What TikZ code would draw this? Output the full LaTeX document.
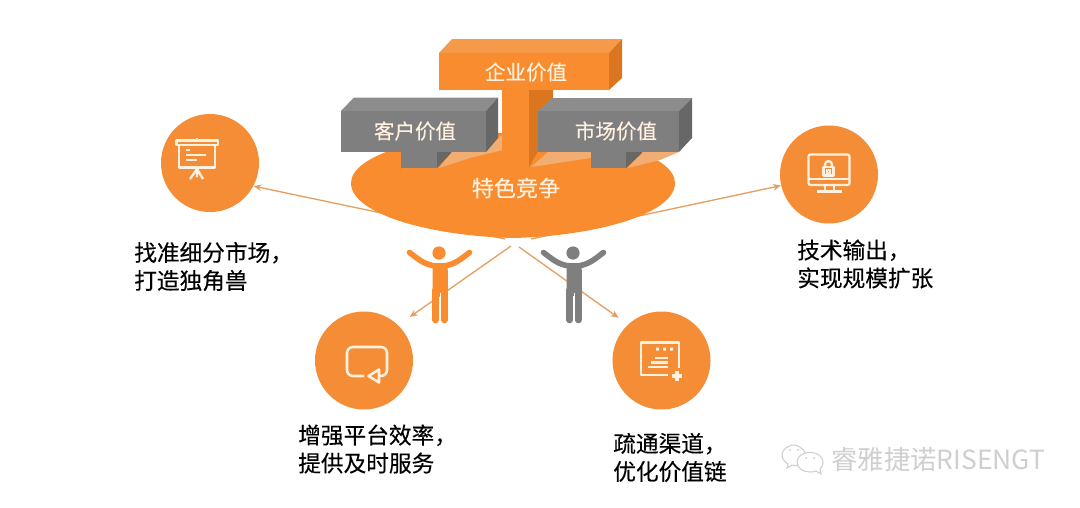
\documentclass[tikz,border=0pt]{standalone}
\usepackage{fontspec}
\setmainfont{Noto Sans CJK SC}
\usetikzlibrary{arrows.meta}
\definecolor{om}{HTML}{F98C2F}
\definecolor{omtop}{HTML}{F59A48}
\definecolor{omdark}{HTML}{D9761F}
\definecolor{omlight}{HTML}{F2AE72}
\definecolor{circ}{HTML}{F48D36}
\definecolor{gm}{HTML}{7F7F7F}
\definecolor{gtop}{HTML}{8C8C8C}
\definecolor{gdark}{HTML}{676767}
\definecolor{arr}{HTML}{E3A063}
\definecolor{cream}{HTML}{FFF1DF}
\definecolor{wm}{HTML}{CFCFCF}
\tikzset{
  x=0.75pt,y=-0.75pt,
  disc/.style={circle,fill=circ,minimum size=73.5pt,inner sep=0pt,draw=none},
  ray/.style={draw=arr,line width=1pt,-{Stealth[length=6pt,width=5pt]}},
  lbl/.style={anchor=west,align=left,inner sep=0pt,text=black,font=\fontsize{17}{21}\selectfont\addfontfeature{FakeBold=0.25}},
  blocktext/.style={text=cream,inner sep=0pt,font=\fontsize{15.4}{18}\selectfont\addfontfeature{FakeBold=0.25}},
  icon/.style={draw=cream,line width=1.7pt,fill=none,line join=round},
  iconthin/.style={draw=cream,line width=1.3pt,fill=none},
  limb/.style={line width=4.2pt,line cap=round,line join=round},
  wmline/.style={draw=wm,line width=0.8pt,fill=white}
}
\begin{document}
\begin{tikzpicture}
\useasboundingbox[fill=white] (0,0) rectangle (1080,507);

% circles
\node[disc] (c1) at (210,163) {};
\node[disc] (c2) at (829,174.5) {};
\node[disc] (c3) at (364,360.5) {};
\node[disc] (c4) at (661.5,360.5) {};

% arrows
\coordinate (h1) at (505,239);
\coordinate (h2) at (531,239);
\coordinate (h3) at (511,246);
\coordinate (h4) at (519,247);
\draw[ray] (h1) -- (c1.-28);
\draw[ray] (h2) -- (c2.193);

% bowl
\fill[om] (351,183) .. controls (351,214) and (430,236) .. (513,238)
          .. controls (596,236) and (675,214) .. (675,183)
          arc[start angle=0,end angle=180,x radius=162,y radius=-50] -- cycle;
% shadows on bowl
\fill[omlight] (439,168) -- (452,152) -- (486,152) -- (500,136) -- (505,134) -- (503,150) -- (470,158) -- cycle;
\fill[omlight] (531,167) -- (548,152) -- (591,152) -- (591,158) -- cycle;
\fill[omlight] (628,168) -- (642,152) -- (679,152) -- (660,160) -- cycle;

% central stem
\fill[om] (502,88) rectangle (529,168);
\fill[omdark] (529,88) -- (553,88) -- (553,125) -- (529,167) -- cycle;

% left grey block
\fill[gdark] (437,150) -- (451,150) -- (451,153) -- (437,168) -- cycle;
\fill[gm] (401,150) rectangle (437,168);
\fill[gtop] (341,111) -- (354,97.5) -- (498,97.5) -- (486,111) -- cycle;
\fill[gdark] (486,111) -- (498,97.5) -- (498,138) -- (486,152) -- cycle;
\fill[gm] (341,111) rectangle (486,152);
\node[blocktext] (kh) at (415,131) {客户价值};

% right grey block
\fill[gdark] (626,150) -- (642,150) -- (642,153) -- (626,168) -- cycle;
\fill[gm] (591,150) rectangle (626,168);
\fill[gtop] (538,111) -- (552,98) -- (692,98) -- (679,111) -- cycle;
\fill[gdark] (679,111) -- (692,98) -- (692,138) -- (679,152) -- cycle;
\fill[gm] (538,111) rectangle (679,152);
\node[blocktext] (sc) at (616,131) {市场价值};

% top block
\fill[omtop] (439,53) -- (452,39) -- (622,39) -- (609,53) -- cycle;
\fill[omdark] (609,53) -- (622,39) -- (622,78) -- (609,90) -- cycle;
\fill[om] (439,53) rectangle (609,90);
\node[blocktext] (qy) at (526,72) {企业价值};
\node[blocktext,font=\fontsize{16.6}{20}\selectfont\addfontfeature{FakeBold=0.25}] (ts) at (516,188) {特色竞争};

% people
\foreach \dx/\col in {0/om,134/gm}{
  \begin{scope}[shift={(\dx,0)}]
    \fill[\col] (439,253) circle[radius=6.6];
    \draw[\col,limb] (409.5,252.5) .. controls (417,258) and (424,265) .. (436,266);
    \draw[\col,limb] (469.5,252.5) .. controls (462,258) and (455,265) .. (443,266);
    \fill[\col,rounded corners=1.5] (432.5,263) rectangle (447.5,296);
  \end{scope}
}
% lower arrows run across the figures
\draw[ray,shorten >=10.5pt] (h3) -- (c3.46);
\draw[ray,shorten >=8.5pt] (h4) -- (c4.133);
\foreach \dx/\col in {0/om,134/gm}{
  \begin{scope}[shift={(\dx,0)}]
    \fill[\col] (432.5,270) rectangle (447.5,296);
    \draw[\col,line width=5pt,line cap=round] (435.6,290) -- (435.6,320);
    \draw[\col,line width=5pt,line cap=round] (444.2,290) -- (444.2,320);
    \draw[white,line width=0.6pt] (439.9,293) -- (439.9,323);
  \end{scope}
}

% icon 1: presentation board
\draw[icon] (176.5,140.5) rectangle (218,145);
\draw[icon] (179,145) -- (179,167.5) -- (215,167.5) -- (215,145);
\draw[iconthin] (186,150) -- (190,150) (186,155) -- (206,155) (186,160) -- (197,160);
\draw[icon] (197,167.5) -- (197,177) (197,169) -- (190,179) (197,169) -- (203,179);
\draw[icon] (197,138) -- (197,140);

% icon 2: monitor with lock
\draw[icon,rounded corners=1.5] (808.5,154.5) rectangle (849.5,185);
\draw[icon] (808.5,179) -- (849.5,179);
\draw[icon] (825,185) -- (825,191.5) (834,185) -- (834,191.5);
\draw[icon] (817,191.5) -- (842,191.5);
\draw[icon] (823.5,167) rectangle (833.5,175.5);
\draw[icon] (825,167) -- (825,164.5) .. controls (825,160) and (832,160) .. (832,164.5) -- (832,167);
\draw[iconthin,line width=0.8pt] (827,170) rectangle (830,173);

% icon 3: speech bubble
\draw[icon,line width=1.9pt,rounded corners=4.5pt] (364,376) -- (347,376) -- (347,347) -- (387,347) -- (387,376) -- (380,376);
\draw[icon,line width=1.9pt] (379,369.5) -- (379,382.5) -- (368.5,376) -- cycle;

% icon 4: document with plus
\draw[icon,line width=1.9pt] (668,375) -- (641,375) -- (641,342.5) -- (679,342.5) -- (679,368);
\fill[cream] (656,347.5) rectangle (659,350.5) (663,347.5) rectangle (666,350.5) (670,347.5) rectangle (673,350.5);
\draw[icon,line width=1.9pt] (655,358) -- (668,358) (651,362.5) -- (668,362.5) (648,367) -- (668,367);
\draw[icon,line width=2.8pt] (672,376) -- (682,376) (677,371) -- (677,381);

% labels
\node[lbl] (t1) at (134,266.5) {找准细分市场，\\打造独角兽};
\node[lbl] (t2) at (797,264) {技术输出，\\实现规模扩张};
\node[lbl] (t3) at (298,449) {增强平台效率，\\提供及时服务};
\node[lbl] (t4) at (613,457.5) {疏通渠道，\\优化价值链};

% watermark
\draw[wmline] (795,445) .. controls (787,445) and (782,450) .. (782,455) .. controls (782,459) and (785,462) .. (788,464) -- (787,468) -- (792,465) .. controls (796,466) and (800,466) .. (804,465) .. controls (808,462) and (808,448) .. (795,445) -- cycle;
\draw[wmline] (810,452.5) .. controls (802,452.5) and (797,457) .. (797,462) .. controls (797,468) and (803,472) .. (810,472) .. controls (813,472) and (815,471.5) .. (816,471) -- (821,474) -- (820,469) .. controls (822,467) and (823,465) .. (823,462) .. controls (823,457) and (818,452.5) .. (810,452.5) -- cycle;
\fill[wm] (790,450) circle[radius=1] (798,450) circle[radius=1] (806,458) circle[radius=1] (814,458) circle[radius=1];
\node[anchor=west,inner sep=0pt,text=wm,font=\fontsize{19.8}{22}\selectfont] (wt) at (831,460) {睿雅捷诺RISENGT};
\end{tikzpicture}
\end{document}
